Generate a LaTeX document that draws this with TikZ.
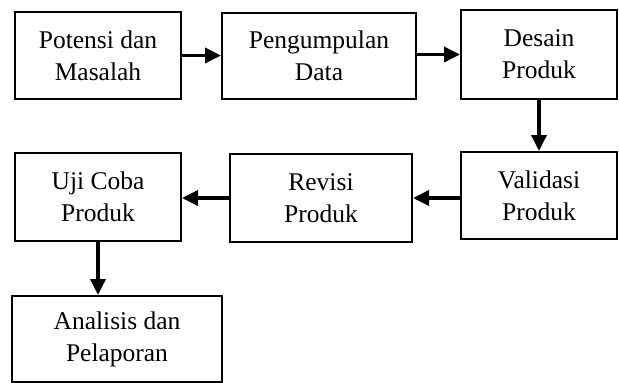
\documentclass[tikz,border=0pt]{standalone}
\usepackage{fontspec}
\setmainfont{Liberation Serif}
\usetikzlibrary{arrows.meta}
\begin{document}
\begin{tikzpicture}[x=1pt,y=-1pt,
  box/.style={draw, line width=2pt, rectangle, align=center, inner sep=0pt,
    font=\fontsize{25.5}{32}\selectfont},
  conn/.style={line width=3.5pt, -{Triangle[length=16pt,width=15pt]}}]
\useasboundingbox (0,0) rectangle (619,383);
\node[box, minimum width=166pt, minimum height=87pt] (b1) at (98,55.5) {Potensi dan\\Masalah};
\node[box, minimum width=194pt, minimum height=86pt] (b2) at (319,56) {Pengumpulan\\Data};
\node[box, minimum width=156pt, minimum height=89pt] (b3) at (539,54.5) {Desain\\Produk};
\node[box, minimum width=156pt, minimum height=87pt] (b6) at (539,195.5) {Validasi\\Produk};
\node[box, minimum width=182pt, minimum height=88pt] (b5) at (321,198) {Revisi\\Produk};
\node[box, minimum width=166pt, minimum height=88pt] (b4) at (98,197) {Uji Coba\\Produk};
\node[box, minimum width=210pt, minimum height=86pt] (b7) at (117,339) {Analisis dan\\Pelaporan};
\draw[conn] (b1.east) -- (b2.west |- b1.east);
\draw[conn] (b2.east |- b3.west) -- (b3.west);
\draw[conn] (b3.south) -- (b6.north);
\draw[conn] (b6.west |- b5.east) -- (b5.east);
\draw[conn] (b5.west) -- (b4.east |- b5.west);
\draw[conn] (b4.south) -- (b7.north -| b4.south);
\end{tikzpicture}
\end{document}
